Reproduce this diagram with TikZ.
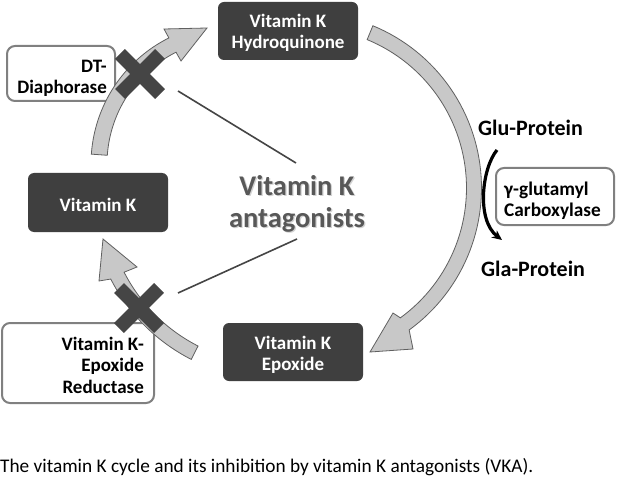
\documentclass[tikz,border=0pt]{standalone}
\usepackage{fontspec}
\setmainfont{Carlito}
\usetikzlibrary{arrows.meta}
\definecolor{cDark}{HTML}{3F3F3F}
\definecolor{cArrFill}{HTML}{C8C8C8}
\definecolor{cArrEdge}{HTML}{606060}
\definecolor{cCross}{HTML}{454545}
\definecolor{cBorder}{HTML}{808080}
\definecolor{cAnt}{HTML}{585858}
\definecolor{cShadow}{HTML}{D2D2D2}
\begin{document}
\begin{tikzpicture}[x=1pt,y=-1pt,
  darkbox/.style={fill=cDark, rounded corners=6pt, minimum width=140pt, minimum height=58pt, inner sep=0pt},
  darktext/.style={text=white, font=\bfseries\fontsize{19}{21.5}\selectfont, align=center, inner sep=0pt},
  whitebox/.style={draw=cBorder, line width=2pt, fill=white, rounded corners=8pt, inner sep=0pt},
  boxtext/.style={font=\bfseries\fontsize{19}{21.5}\selectfont, align=right, inner sep=0pt},
  bigarrow/.style={fill=cArrFill, draw=cArrEdge, line width=0.8pt, line join=miter},
  cross/.style={draw=cCross, line width=14pt},
  antline/.style={draw=cCross, line width=1.6pt},
  prot/.style={font=\bfseries\fontsize{22}{26}\selectfont, inner sep=0pt, anchor=base west},
  anttext/.style={font=\bfseries\fontsize{28.5}{32}\selectfont, text=cAnt, inner sep=0pt, anchor=base}
]
\useasboundingbox[fill=white] (0,0) rectangle (617,478);

% white boxes
\node[whitebox, minimum width=108pt, minimum height=55pt] (dtbox) at (61,73.5) {};
\node[boxtext, anchor=east] (dt) at ([xshift=-9pt,yshift=-5pt]dtbox.east) {DT-\\Diaphorase};
\node[whitebox, minimum width=152pt, minimum height=80pt] (vkorbox) at (78,363) {};
\node[boxtext, anchor=east] (vkor) at ([xshift=-11pt,yshift=-2pt]vkorbox.east) {Vitamin K-\\Epoxide\\Reductase};
\node[whitebox, minimum width=118pt, minimum height=57pt] (gbox) at (555,196.5) {};
\node[font=\bfseries\fontsize{19.3}{21}\selectfont, align=left, inner sep=0pt, anchor=west] (gtext) at ([xshift=9pt,yshift=-4pt]gbox.west) {γ-glutamyl\\Carboxylase};

% dark boxes
\node[darkbox] (hq) at (288,31) {};
\node[darktext] (hqt) at ([yshift=-2pt]hq.center) {Vitamin K\\Hydroquinone};
\node[darkbox, minimum height=59pt] (vk) at (98,202.5) {};
\node[darktext] (vkt) at ([yshift=-2pt]vk.center) {Vitamin K};
\node[darkbox] (ep) at (293,352) {};
\node[darktext] (ept) at ([yshift=-3pt]ep.center) {Vitamin K\\Epoxide};

% big arrows
\path[bigarrow] plot[domain=-67.6:54, samples=60] ({306+175.5*cos(\x)},{188+175.5*sin(\x)})
  -- (413,349) -- (370,352) -- (393,313)
  -- plot[domain=54:-67.6, samples=60] ({306+160.5*cos(\x)},{188+160.5*sin(\x)}) -- cycle;
\path[bigarrow] plot[domain=184:243.4, samples=40] ({232+141*cos(\x)},{164+141*sin(\x)})
  -- (164,29) -- (207,28) -- (181,61)
  -- plot[domain=243.4:184, samples=40] ({232+125*cos(\x)},{164+125*sin(\x)}) -- cycle;
\path[bigarrow] plot[domain=117:152.9, samples=40] ({275+184.5*cos(\x)},{195+184.5*sin(\x)})
  -- (99,281) -- (103,239) -- (137,267)
  -- plot[domain=152.9:117, samples=40] ({275+169.5*cos(\x)},{195+169.5*sin(\x)}) -- cycle;

% crosses
\coordinate (x1) at (140,74);
\draw[cross] ([shift={(-20,-20)}]x1) -- ([shift={(20,20)}]x1);
\draw[cross] ([shift={(20,-20)}]x1) -- ([shift={(-20,20)}]x1);
\coordinate (x2) at (139,308);
\draw[cross] ([shift={(-20,-20)}]x2) -- ([shift={(20,20)}]x2);
\draw[cross] ([shift={(20,-20)}]x2) -- ([shift={(-20,20)}]x2);

% antagonists
\node[anttext, text=cShadow] (ant1s) at (298.2,196.2) {Vitamin K};
\node[anttext, text=cShadow] (ant2s) at (298.2,228.2) {antagonists};
\node[anttext] (ant1) at (297,195) {Vitamin K};
\node[anttext] (ant2) at (297,227) {antagonists};
\coordinate (a1s) at (296,163);
\coordinate (a1e) at (178,91);
\coordinate (a2s) at (297,239);
\coordinate (a2e) at (178,293);
\draw[antline] (a1s) -- (a1e);
\draw[antline] (a2s) -- (a2e);

% proteins
\node[prot] (glu) at (478,136) {Glu-Protein};
\node[prot] (gla) at (481,276) {Gla-Protein};
\coordinate (gs) at (497,150);
\coordinate (ge) at (502,240);
\draw[line width=3.2pt, -{Stealth[length=10pt,width=9pt]}] (gs) .. controls (482,168) and (476,220) .. (ge);

% caption
\node[font=\fontsize{19.3}{22}\selectfont, inner sep=0pt, anchor=base west] (cap) at (0,472)
  {The vitamin K cycle and its inhibition by vitamin K antagonists (VKA).};
\end{tikzpicture}
\end{document}
